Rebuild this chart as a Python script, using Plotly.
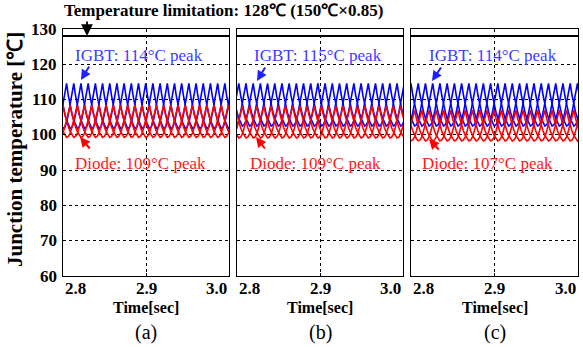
import numpy as np
import plotly.graph_objects as go

# ---------------- data ----------------
PANELS = ["(a)", "(b)", "(c)"]
X_TICKS = [2.8, 2.9, 3.0]
X_TICK_TEXT = ["2.8", "2.9", "3.0"]
Y_TICKS = [60, 70, 80, 90, 100, 110, 120, 130]
Y_GRID = [70, 80, 90, 100, 110, 120]
LIMIT = 128

IGBT_PEAK = [114.6, 114.6, 114.6]
IGBT_TROUGH = [101.8, 102.5, 102.5]
DIODE_PEAK = [108.4, 108.2, 107.0]
DIODE_TROUGH = [99.3, 99.1, 98.3]
IGBT_LABEL = ["IGBT: 114°C peak", "IGBT: 115°C peak", "IGBT: 114°C peak"]
DIODE_LABEL = ["Diode: 109°C peak", "Diode: 109°C peak", "Diode: 107°C peak"]

# one thermal cycle of a phase (normalised, 12 samples)
CYCLE_SHAPE = [0.0, 0.03, 0.13, 0.32, 0.56, 0.80, 1.0, 0.72, 0.50, 0.32, 0.18, 0.07]
PERIOD = 0.026            # s, one output cycle (three phases shifted by 1/3)
PHASE_SHIFT = [0, 4, 8]   # samples
DIODE_SHIFT = 2           # samples
T_START, T_END = 2.8, 3.0

# ---------------- layout helpers ----------------
W, H = 583, 347
ML, MR, MT, MB = 63, 5, 29, 71
PW = W - ML - MR
PH = H - MT - MB
PANEL_PX = [(63, 229), (237, 403), (411, 578)]

def dom(p):
    a, b = PANEL_PX[p]
    return [(a - ML) / PW, (b - ML) / PW]

def px2x(p, px):
    a, b = PANEL_PX[p]
    return T_START + (px - a) / (b - a) * (T_END - T_START)

def py2y(py):
    return 60 + (276 - py) / (276 - 29) * 70

def py2paper(py):
    return (H - MB - py) / PH

def px2paper(px):
    return (px - ML) / PW

fig = go.Figure()
n_per = len(CYCLE_SHAPE)
dt = PERIOD / n_per
n = int(round((T_END - T_START + 2 * PERIOD) / dt)) + 1
t = T_START - PERIOD + np.arange(n) * dt

for p in range(3):
    xa = "x" if p == 0 else f"x{p+1}"
    ya = "y" if p == 0 else f"y{p+1}"
    for dev, (pk, tr, col, sh) in enumerate([
        (IGBT_PEAK[p], IGBT_TROUGH[p], "#0000ff", 0),
        (DIODE_PEAK[p], DIODE_TROUGH[p], "#ff0000", DIODE_SHIFT),
    ]):
        for ph in PHASE_SHIFT:
            idx = (np.arange(n) + ph + sh + p) % n_per
            v = tr + (pk - tr) * np.array(CYCLE_SHAPE)[idx]
            fig.add_trace(go.Scatter(x=t, y=v, mode="lines",
                                     line=dict(color=col, width=1.6),
                                     xaxis=xa, yaxis=ya, showlegend=False,
                                     hoverinfo="skip"))
    # temperature limit line
    fig.add_trace(go.Scatter(x=[T_START - 0.01, T_END + 0.01], y=[LIMIT, LIMIT],
                             mode="lines", line=dict(color="black", width=2),
                             xaxis=xa, yaxis=ya, showlegend=False, hoverinfo="skip"))

axis_common = dict(showline=True, linecolor="black", linewidth=1, mirror=True,
                   ticks="inside", ticklen=3, tickcolor="black",
                   zeroline=False)
for p in range(3):
    key = "" if p == 0 else str(p + 1)
    fig.update_layout(**{
        f"xaxis{key}": dict(axis_common, domain=dom(p), range=[T_START, T_END],
                            tickvals=[2.9], showticklabels=False,
                            showgrid=True, gridcolor="black", griddash="dot",
                            gridwidth=1, anchor="y" + key),
        f"yaxis{key}": dict(axis_common, domain=[0, 1], range=[60, 130],
                            tickvals=Y_GRID, showticklabels=False,
                            showgrid=True, gridcolor="black", griddash="dot",
                            gridwidth=1, anchor="x" + key),
    })

SERIF = "Liberation Serif"
ann = []
tickfont = dict(family=SERIF, size=17, color="black")
# y tick labels (panel a)
for yv in Y_TICKS:
    ann.append(dict(x=0, xref="paper", y=yv, yref="y", text=f"<b>{yv}</b>",
                    showarrow=False, xanchor="right", yanchor="middle",
                    xshift=-4, font=tickfont))
# x tick labels, titles, panel names
for p in range(3):
    xr = "x" if p == 0 else f"x{p+1}"
    anchors = ["left", "center", "right"]
    for xv, txt, anc in zip(X_TICKS, X_TICK_TEXT, anchors):
        ann.append(dict(x=xv, xref=xr, y=py2paper(288), yref="paper",
                        text=f"<b>{txt}</b>", showarrow=False, xanchor=anc,
                        yanchor="middle", font=tickfont))
    ann.append(dict(x=2.9, xref=xr, y=py2paper(307), yref="paper",
                    text="<b>Time[sec]</b>", showarrow=False, yanchor="middle",
                    font=dict(family=SERIF, size=16, color="black")))
    ann.append(dict(x=2.9, xref=xr, y=py2paper(332), yref="paper",
                    text=PANELS[p], showarrow=False, yanchor="middle",
                    font=dict(family=SERIF, size=20, color="black")))

IGBT_TXT_PX = [73, 252, 427]
DIODE_TXT_PX = [73, 248, 420]
BLUE_ARROW = [((81, 80), (90, 65)), ((257, 81), (266, 66)), ((432, 81), (442, 66))]
RED_ARROW = [((80, 137), (91, 150)), ((256, 137), (266, 150)), ((429, 139), (440, 151))]
for p in range(3):
    xr = "x" if p == 0 else f"x{p+1}"
    yr = "y" if p == 0 else f"y{p+1}"
    ann.append(dict(x=px2x(p, IGBT_TXT_PX[p]), xref=xr, y=py2y(55), yref=yr,
                    text=IGBT_LABEL[p], showarrow=False, xanchor="left",
                    yanchor="middle",
                    font=dict(family=SERIF, size=17, color="#3b3bff")))
    ann.append(dict(x=px2x(p, DIODE_TXT_PX[p]), xref=xr, y=py2y(163), yref=yr,
                    text=DIODE_LABEL[p], showarrow=False, xanchor="left",
                    yanchor="middle",
                    font=dict(family=SERIF, size=17, color="#ff1a1a")))
    (hx, hy), (tx, ty) = BLUE_ARROW[p]
    ann.append(dict(x=px2x(p, hx), xref=xr, y=py2y(hy), yref=yr, text="",
                    showarrow=True, ax=tx - hx, ay=ty - hy, arrowhead=2,
                    arrowsize=1, arrowwidth=2, arrowcolor="#2020ff", standoff=0))
    (hx, hy), (tx, ty) = RED_ARROW[p]
    ann.append(dict(x=px2x(p, hx), xref=xr, y=py2y(hy), yref=yr, text="",
                    showarrow=True, ax=tx - hx, ay=ty - hy, arrowhead=2,
                    arrowsize=1, arrowwidth=2, arrowcolor="#ff0000", standoff=0))

# title and black arrow
ann.append(dict(x=px2paper(62), xref="paper", y=py2paper(10), yref="paper",
                text="<b>Temperature limitation: 128℃ (150℃×0.85)</b>",
                showarrow=False, xanchor="left", yanchor="middle",
                font=dict(family=SERIF, size=17, color="black")))
ann.append(dict(x=px2x(0, 87), xref="x", y=LIMIT, yref="y", text="",
                showarrow=True, ax=0, ay=-16, arrowhead=2, arrowsize=1.3,
                arrowwidth=1.8, arrowcolor="black", standoff=0))
# y-axis title
ann.append(dict(x=px2paper(15), xref="paper", y=py2paper(150), yref="paper",
                text="<b>Junction temperature [℃]</b>", showarrow=False,
                textangle=-90, xanchor="center", yanchor="middle",
                font=dict(family=SERIF, size=21, color="black")))

fig.update_layout(width=W, height=H, margin=dict(l=ML, r=MR, t=MT, b=MB),
                  plot_bgcolor="white", paper_bgcolor="white",
                  annotations=ann, showlegend=False)
fig.write_html("out.html")
